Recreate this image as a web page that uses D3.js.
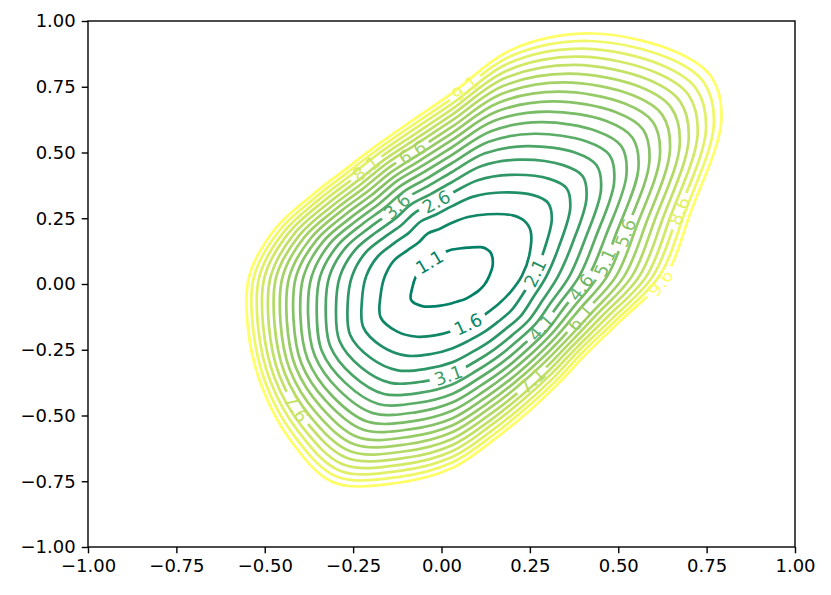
<!DOCTYPE html>
<html><head><meta charset="utf-8">
<script src="https://cdn.jsdelivr.net/npm/d3@7"></script>
<style>body{margin:0;background:#fff} svg text{font-family:"DejaVu Sans",sans-serif}</style>
</head><body><svg id="chart" width="831" height="595"></svg>
<script>
// contour levels
const levels = [1.1,1.6,2.1,2.6,3.1,3.6,4.1,4.6,5.1,5.6,6.1,6.6,7.1,7.6,8.1,8.6,9.1,9.6];
// centre of the contour family (data units)
const center = [0.03, 0.03];
// ray directions (degrees, data space) at which contour distances were read
const angles = [0,19.80,37.81,45.88,53.35,66.76,78.73,90,101.27,113.24,126.65,142.19,160.20,180,199.80,217.81,233.35,246.76,258.73,270,281.27,293.24,306.65,322.19,340.20];
// distance (data units) from centre to each contour along each ray; one row per level
const radii = [
 [0.105,0.122,0.140,0.142,0.137,0.118,0.107,0.101,0.094,0.093,0.082,0.084,0.093,0.102,0.119,0.147,0.142,0.125,0.112,0.103,0.097,0.095,0.092,0.093,0.097],
 [0.197,0.232,0.281,0.293,0.288,0.256,0.229,0.203,0.183,0.176,0.159,0.160,0.175,0.190,0.215,0.256,0.262,0.251,0.229,0.209,0.191,0.180,0.171,0.169,0.176],
 [0.230,0.275,0.357,0.389,0.384,0.346,0.308,0.266,0.238,0.226,0.205,0.206,0.223,0.243,0.271,0.318,0.333,0.329,0.302,0.275,0.249,0.231,0.217,0.212,0.211],
 [0.267,0.320,0.423,0.465,0.461,0.419,0.372,0.316,0.281,0.264,0.241,0.242,0.261,0.283,0.314,0.365,0.387,0.390,0.359,0.328,0.294,0.270,0.252,0.246,0.243],
 [0.300,0.361,0.481,0.530,0.526,0.482,0.427,0.358,0.317,0.296,0.271,0.272,0.292,0.317,0.349,0.403,0.432,0.442,0.408,0.372,0.332,0.303,0.282,0.274,0.272],
 [0.332,0.398,0.533,0.587,0.585,0.538,0.476,0.396,0.349,0.324,0.298,0.298,0.320,0.347,0.380,0.436,0.471,0.488,0.452,0.412,0.365,0.332,0.308,0.298,0.297],
 [0.360,0.431,0.580,0.640,0.638,0.589,0.520,0.430,0.377,0.349,0.322,0.322,0.344,0.373,0.407,0.466,0.506,0.529,0.491,0.448,0.395,0.358,0.331,0.319,0.320],
 [0.386,0.463,0.624,0.688,0.687,0.637,0.562,0.461,0.404,0.372,0.344,0.343,0.367,0.397,0.433,0.492,0.538,0.567,0.528,0.481,0.423,0.382,0.352,0.339,0.340],
 [0.413,0.495,0.667,0.733,0.734,0.681,0.601,0.490,0.428,0.394,0.364,0.363,0.388,0.420,0.456,0.517,0.568,0.603,0.562,0.512,0.449,0.403,0.372,0.357,0.362],
 [0.439,0.525,0.706,0.776,0.777,0.723,0.637,0.518,0.451,0.413,0.383,0.382,0.407,0.441,0.477,0.540,0.595,0.636,0.593,0.541,0.473,0.424,0.390,0.374,0.381],
 [0.464,0.554,0.744,0.816,0.818,0.763,0.672,0.544,0.473,0.432,0.401,0.400,0.425,0.460,0.497,0.561,0.621,0.668,0.623,0.568,0.496,0.443,0.407,0.390,0.400],
 [0.487,0.582,0.780,0.854,0.857,0.802,0.705,0.568,0.493,0.450,0.418,0.416,0.443,0.479,0.516,0.581,0.646,0.697,0.652,0.594,0.517,0.461,0.423,0.405,0.418],
 [0.509,0.607,0.815,0.891,0.895,0.838,0.737,0.592,0.513,0.467,0.434,0.432,0.459,0.497,0.534,0.600,0.669,0.726,0.679,0.619,0.538,0.479,0.439,0.419,0.434],
 [0.530,0.632,0.847,0.926,0.931,0.874,0.768,0.614,0.531,0.483,0.450,0.447,0.475,0.513,0.551,0.618,0.691,0.753,0.706,0.643,0.558,0.495,0.453,0.432,0.450],
 [0.550,0.655,0.879,0.960,0.965,0.908,0.797,0.635,0.549,0.498,0.465,0.462,0.490,0.530,0.568,0.635,0.712,0.780,0.731,0.666,0.576,0.511,0.467,0.445,0.465],
 [0.568,0.677,0.909,0.992,0.998,0.941,0.826,0.656,0.567,0.513,0.479,0.476,0.504,0.545,0.583,0.651,0.732,0.805,0.755,0.688,0.595,0.527,0.481,0.457,0.480],
 [0.586,0.698,0.937,1.024,1.031,0.973,0.853,0.676,0.583,0.527,0.493,0.489,0.518,0.560,0.598,0.667,0.752,0.829,0.779,0.709,0.612,0.541,0.494,0.469,0.493],
 [0.603,0.717,0.964,1.054,1.062,1.004,0.880,0.696,0.599,0.541,0.506,0.502,0.532,0.574,0.613,0.682,0.771,0.853,0.802,0.730,0.629,0.556,0.506,0.481,0.505]
];
// direction (degrees, data space) from centre where each level's inline label sits
const labelAngles = [138.9,283.6,2.7,98.8,268.5,120.6,322.2,353.3,6.7,18.5,336.4,103.3,299.8,228.7,120.6,21.1,87.0,357.7];
const xTicks = [-1,-0.75,-0.5,-0.25,0,0.25,0.5,0.75,1];
const yTicks = [-1,-0.75,-0.5,-0.25,0,0.25,0.5,0.75,1];

const W = 831, H = 595;
const L = 88, R = 795, T = 21, B = 547;
const svg = d3.select("#chart");
svg.append("rect").attr("width", W).attr("height", H).attr("fill", "#fff");
const x = d3.scaleLinear().domain([-1, 1]).range([L, R]);
const y = d3.scaleLinear().domain([-1, 1]).range([B, T]);
const color = d3.scaleLinear().domain([levels[0], levels[levels.length - 1]])
  .range(["rgb(0,128,102)", "rgb(255,255,102)"]).interpolate(d3.interpolateRgb);
const fmt = d3.format(".2f");

const line = d3.line().curve(d3.curveCatmullRomClosed.alpha(0.5));
const defs = svg.append("defs");
const gC = svg.append("g");
const gL = svg.append("g");

const paths = levels.map((lev, k) => {
  const pts = angles.map((a, i) => {
    const t = a * Math.PI / 180;
    return [x(center[0] + radii[k][i] * Math.cos(t)), y(center[1] + radii[k][i] * Math.sin(t))];
  });
  return gC.append("path").attr("d", line(pts)).attr("fill", "none")
    .attr("stroke", color(lev)).attr("stroke-width", 2.7).attr("stroke-linejoin", "round");
});

const cx = x(center[0]), cy = y(center[1]);
const sx = x(1) - x(0), sy = y(0) - y(1);
levels.forEach((lev, k) => {
  const node = paths[k].node();
  const len = node.getTotalLength();
  const phi = labelAngles[k] * Math.PI / 180;
  const ta = Math.atan2(-Math.sin(phi) * sy, Math.cos(phi) * sx);
  let best = 0, bd = 1e9;
  for (let s = 0; s <= len; s += 1) {
    const p = node.getPointAtLength(s);
    let d = Math.abs(Math.atan2(p.y - cy, p.x - cx) - ta);
    d = Math.min(d, 2 * Math.PI - d);
    if (d < bd) { bd = d; best = s; }
  }
  const p = node.getPointAtLength(best);
  const p1 = node.getPointAtLength((best - 5 + len) % len);
  const p2 = node.getPointAtLength((best + 5) % len);
  let rot = Math.atan2(p2.y - p1.y, p2.x - p1.x) * 180 / Math.PI;
  if (rot > 90) rot -= 180;
  if (rot < -90) rot += 180;
  const txt = gL.append("text").attr("x", 0).attr("y", 0)
    .attr("transform", `translate(${p.x},${p.y}) rotate(${rot})`)
    .attr("text-anchor", "middle").attr("dominant-baseline", "central")
    .attr("font-size", 18).attr("fill", color(lev)).text(lev.toFixed(1));
  const tw = txt.node().getComputedTextLength();
  const gw = tw + 10, gh = 14;
  const m = defs.append("mask").attr("id", "m" + k).attr("maskUnits", "userSpaceOnUse")
    .attr("x", 0).attr("y", 0).attr("width", W).attr("height", H);
  m.append("rect").attr("width", W).attr("height", H).attr("fill", "white");
  m.append("rect").attr("x", -gw / 2).attr("y", -gh / 2).attr("width", gw).attr("height", gh)
    .attr("fill", "black").attr("transform", `translate(${p.x},${p.y}) rotate(${rot})`);
  paths[k].attr("mask", `url(#m${k})`);
});

// axes
const ax = svg.append("g").attr("transform", `translate(0,${B})`)
  .call(d3.axisBottom(x).tickValues(xTicks).tickFormat(fmt).tickSize(6.3).tickSizeOuter(0).tickPadding(6));
const ay = svg.append("g").attr("transform", `translate(${L},0)`)
  .call(d3.axisLeft(y).tickValues(yTicks).tickFormat(fmt).tickSize(6.3).tickSizeOuter(0).tickPadding(6));
[ax, ay].forEach(g => {
  g.select(".domain").remove();
  g.selectAll("line").attr("stroke", "#000").attr("stroke-width", 1.4);
  g.selectAll("text").attr("font-size", 18).attr("fill", "#000").style("font-family", '"DejaVu Sans", sans-serif');
});
svg.append("rect").attr("x", L).attr("y", T).attr("width", R - L).attr("height", B - T)
  .attr("fill", "none").attr("stroke", "#000").attr("stroke-width", 1.4);
</script></body></html>
